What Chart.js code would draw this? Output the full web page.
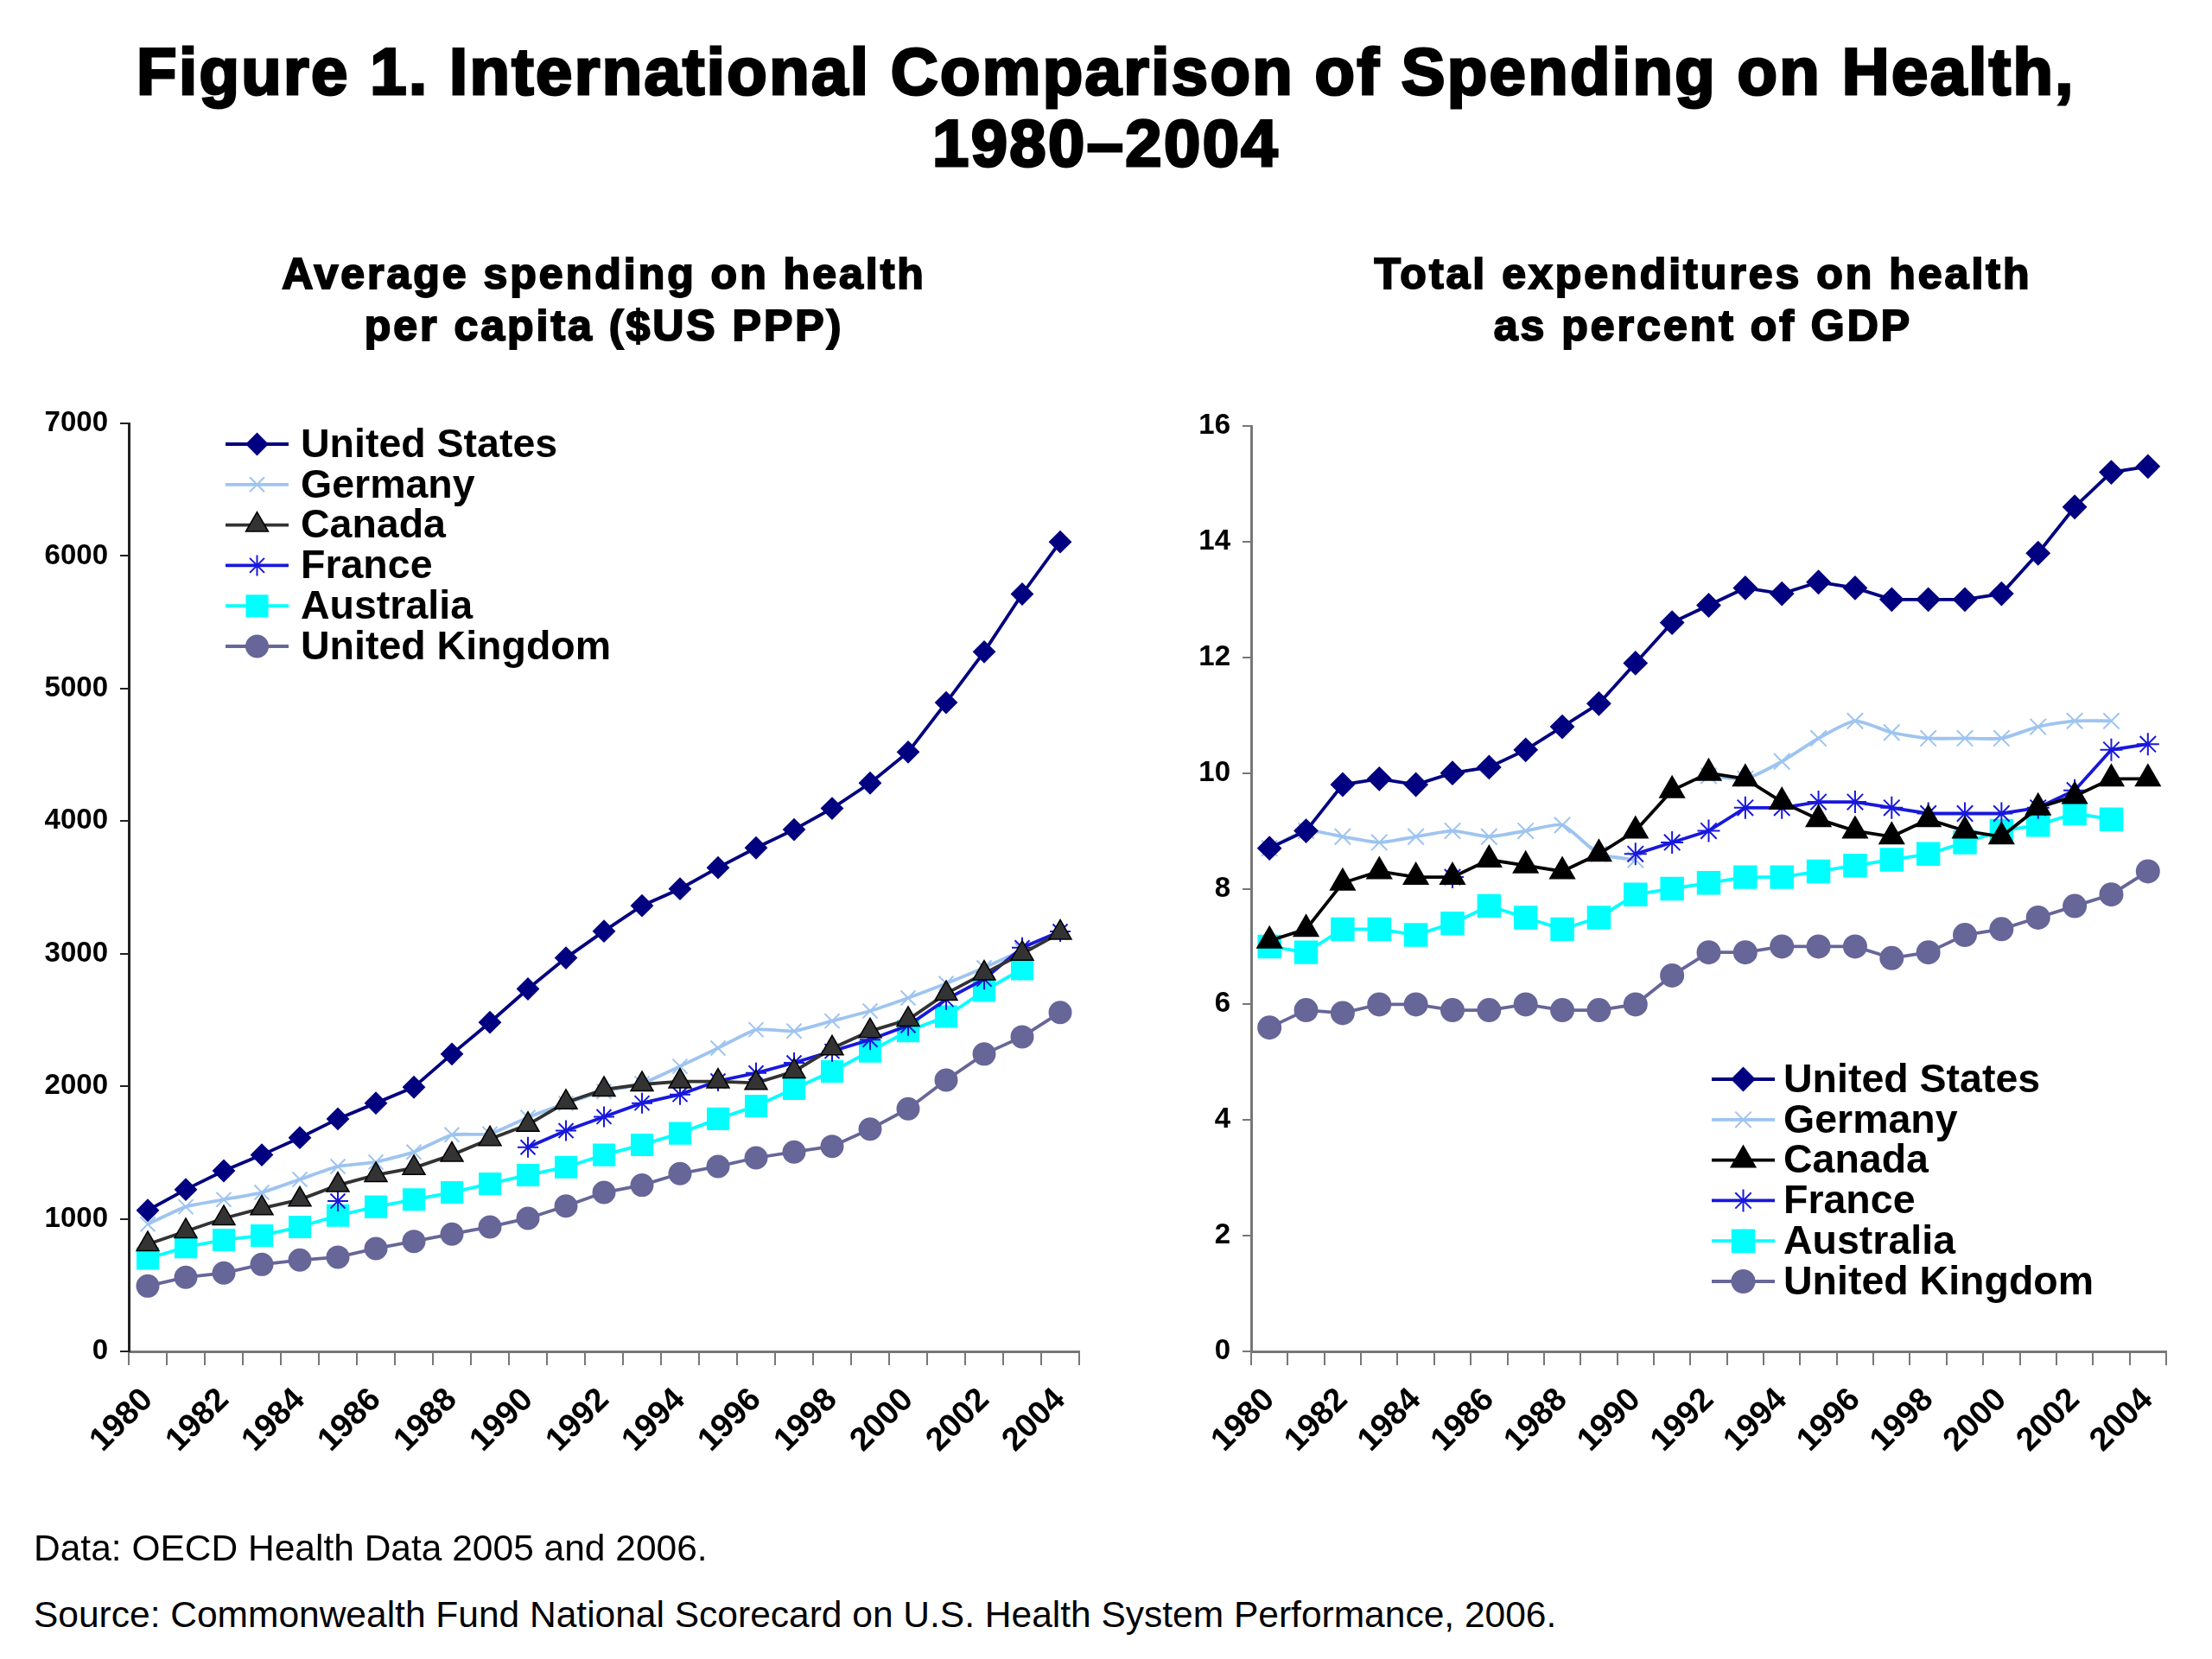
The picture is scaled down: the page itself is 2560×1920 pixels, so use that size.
<!DOCTYPE html>
<html><head><meta charset="utf-8">
<script src="https://cdn.jsdelivr.net/npm/chart.js@4.4.0/dist/chart.umd.min.js"></script>
<style>
html,body{margin:0;padding:0;background:#fff;}
body{width:2560px;height:1920px;position:relative;overflow:hidden;font-family:"Liberation Sans",Arial,sans-serif;color:#000;}
.ttl{position:absolute;left:0;width:2560px;text-align:center;font-weight:bold;font-size:76px;line-height:76px;letter-spacing:2.4px;-webkit-text-stroke:3px #000;white-space:nowrap;}
.sub{position:absolute;text-align:center;font-weight:bold;font-size:50px;line-height:50px;letter-spacing:3px;-webkit-text-stroke:2px #000;white-space:nowrap;width:1000px;}
.note{position:absolute;left:39px;font-size:42.5px;line-height:43px;white-space:nowrap;}
canvas{position:absolute;}
</style></head>
<body>
<div class="ttl" style="top:45px">Figure 1. International Comparison of Spending on Health,</div>
<div class="ttl" style="top:128px">1980–2004</div>
<div class="sub" style="left:199px;top:292px">Average spending on health</div>
<div class="sub" style="left:199px;top:352px">per capita ($US PPP)</div>
<div class="sub" style="left:1471px;top:292px">Total expenditures on health</div>
<div class="sub" style="left:1471px;top:352px">as percent of GDP</div>
<canvas id="c1" width="1300" height="1400" style="left:0;top:400px"></canvas>
<canvas id="c2" width="1260" height="1400" style="left:1300px;top:400px"></canvas>
<div class="note" style="top:1770px">Data: OECD Health Data 2005 and 2006.</div>
<div class="note" style="top:1847px">Source: Commonwealth Fund National Scorecard on U.S. Health System Performance, 2006.</div>
<script>
// ---------- data ----------
const years = ["1980","1981","1982","1983","1984","1985","1986","1987","1988","1989","1990","1991","1992","1993","1994","1995","1996","1997","1998","1999","2000","2001","2002","2003","2004"];
const countries = ["United States","Germany","Canada","France","Australia","United Kingdom"];

// per capita spending ($US PPP)
const pcUS = [1064,1221,1362,1482,1612,1754,1873,1993,2243,2482,2734,2968,3170,3362,3489,3649,3798,3936,4096,4287,4521,4894,5277,5713,6106];
const pcGermany = [960,1091,1145,1199,1297,1395,1428,1504,1634,1640,1765,1870,1960,2020,2150,2288,2427,2416,2492,2568,2666,2775,2894,3025,null];
const pcCanada = [808,906,1004,1080,1145,1254,1330,1384,1482,1602,1710,1878,1975,2014,2036,2036,2025,2112,2286,2416,2503,2699,2851,3000,3158];
const pcFrance = [null,null,null,null,null,1134,null,null,null,null,1540,1665,1770,1873,1938,2040,2100,2177,2264,2351,2459,2655,2808,3046,3168];
const pcAustralia = [700,787,841,874,939,1025,1091,1145,1199,1265,1330,1390,1482,1558,1645,1754,1851,1982,2112,2264,2416,2525,2721,2884,null];
const pcUK = [493,559,591,656,689,711,776,830,885,939,1004,1097,1199,1254,1341,1395,1460,1504,1547,1677,1830,2047,2243,2373,2557];

// total expenditure on health, % of GDP
const gdpUS = [8.7,9.0,9.8,9.9,9.8,10.0,10.1,10.4,10.8,11.2,11.9,12.6,12.9,13.2,13.1,13.3,13.2,13.0,13.0,13.0,13.1,13.8,14.6,15.2,15.3];
const gdpGermany = [8.7,9.0,8.9,8.8,8.9,9.0,8.9,9.0,9.1,8.6,8.5,null,9.95,9.9,10.2,10.6,10.9,10.7,10.6,10.6,10.6,10.8,10.9,10.9,null];
const gdpCanada = [7.1,7.3,8.1,8.3,8.2,8.2,8.5,8.4,8.3,8.6,9.0,9.7,10.0,9.9,9.5,9.2,9.0,8.9,9.2,9.0,8.9,9.4,9.6,9.9,9.9];
const gdpFrance = [null,null,null,null,null,8.2,null,null,null,null,8.6,8.8,9.0,9.4,9.4,9.5,9.5,9.4,9.3,9.3,9.3,9.4,9.7,10.4,10.5];
const gdpAustralia = [7.0,6.9,7.3,7.3,7.2,7.4,7.7,7.5,7.3,7.5,7.9,8.0,8.1,8.2,8.2,8.3,8.4,8.5,8.6,8.8,9.0,9.1,9.3,9.2,null];
const gdpUK = [5.6,5.9,5.85,6.0,6.0,5.9,5.9,6.0,5.9,5.9,6.0,6.5,6.9,6.9,7.0,7.0,7.0,6.8,6.9,7.2,7.3,7.5,7.7,7.9,8.3];

// ---------- styles ----------
const FONT = "'Liberation Sans', Arial, sans-serif";
Chart.defaults.font.family = FONT;
Chart.defaults.font.size = 33;
Chart.defaults.font.weight = 'bold';
Chart.defaults.color = '#000';

function series(label, data, color, style, radius, opts) {
  opts = opts || {};
  return {
    label: label, data: data,
    borderColor: opts.line || color, borderWidth: opts.lw || 3.8,
    pointStyle: style, pointRadius: radius, pointHoverRadius: radius,
    pointBackgroundColor: opts.fill || color, pointBorderColor: opts.pborder || color,
    pointBorderWidth: opts.pbw || 2,
    tension: opts.tension || 0, spanGaps: false, fill: false,
    order: opts.order || 0
  };
}

const insideLegend = {
  id: 'insideLegend',
  afterDatasetsDraw(chart, args, o) {
    const ctx = chart.ctx;
    ctx.save();
    chart.data.datasets.forEach((d, i) => {
      const y = o.y + i * o.rowH;
      ctx.strokeStyle = d.borderColor; ctx.lineWidth = d.borderWidth;
      ctx.beginPath(); ctx.moveTo(o.x, y); ctx.lineTo(o.x + o.len, y); ctx.stroke();
      ctx.fillStyle = d.pointBackgroundColor; ctx.strokeStyle = d.pointBorderColor; ctx.lineWidth = d.pointBorderWidth;
      Chart.helpers.drawPoint(ctx, {pointStyle: d.pointStyle, radius: d.pointRadius, rotation: 0, borderWidth: d.pointBorderWidth}, o.x + o.len / 2, y);
      ctx.fillStyle = '#000'; ctx.font = o.font; ctx.textBaseline = 'middle'; ctx.textAlign = 'left';
      ctx.fillText(d.label, o.textX, y + 2);
    });
    ctx.restore();
  }
};

function makeChart(id, datasets, yMax, yStep, cfg) {
  return new Chart(document.getElementById(id), {
    type: 'line',
    data: { labels: years, datasets: datasets },
    plugins: [insideLegend],
    options: {
      responsive: false, animation: false, devicePixelRatio: 1,
      layout: { padding: { top: cfg.padTop, right: cfg.padRight, left: 0, bottom: 0 } },
      plugins: { legend: { display: false }, tooltip: { enabled: false }, insideLegend: cfg.legend },
      scales: {
        x: {
          type: 'category', offset: true,
          grid: { offset: true, drawOnChartArea: false, drawTicks: true, tickLength: 16, color: cfg.xColor, lineWidth: 2 },
          border: { display: true, color: cfg.xColor, width: 3 },
          ticks: { autoSkip: false, maxRotation: 45, minRotation: 45, padding: 18, color: '#000',
                   font: { family: FONT, size: 38, weight: 'bold' },
                   callback: (v, i) => (i % 2 === 0 ? years[i] : '') },
          afterFit: s => { s.height = cfg.xH; }
        },
        y: {
          min: 0, max: yMax,
          grid: { drawOnChartArea: false, drawTicks: true, tickLength: 10, color: cfg.yColor, lineWidth: 2 },
          border: { display: true, color: cfg.yColor, width: 3 },
          ticks: { stepSize: yStep, padding: 14, color: '#000', font: { family: FONT, size: 33, weight: 'bold' },
                   callback: v => String(v) },
          afterFit: s => { s.width = cfg.yW; }
        }
      }
    }
  });
}

const NAVY = '#000080', LBLUE = '#9EC4F0', BLUE = '#1818DC', CYAN = '#00FFFF', SLATE = '#666699';

makeChart('c1', [
  series(countries[0], pcUS, NAVY, 'rectRot', 12, {order: 0}),
  series(countries[1], pcGermany, LBLUE, 'crossRot', 12, {order: 3, tension: 0.15}),
  series(countries[2], pcCanada, '#333333', 'triangle', 15, {order: 1, pborder: '#000', pbw: 1.5}),
  series(countries[3], pcFrance, BLUE, 'star', 12, {order: 2}),
  series(countries[4], pcAustralia, CYAN, 'rect', 17, {order: 4}),
  series(countries[5], pcUK, SLATE, 'circle', 12.5, {order: 5})
], 7000, 1000, {
  padTop: 90, padRight: 51, xH: 236, yW: 149, xColor: '#777', yColor: '#222',
  legend: { x: 261, len: 73, textX: 348, y: 114, rowH: 46.8, font: "bold 46.5px 'Liberation Sans', Arial, sans-serif" }
});

makeChart('c2', [
  series(countries[0], gdpUS, NAVY, 'rectRot', 13, {order: 0}),
  series(countries[1], gdpGermany, LBLUE, 'crossRot', 13, {order: 3, tension: 0.2}),
  series(countries[2], gdpCanada, '#000000', 'triangle', 16, {order: 1}),
  series(countries[3], gdpFrance, BLUE, 'star', 13, {order: 2}),
  series(countries[4], gdpAustralia, CYAN, 'rect', 18, {order: 4}),
  series(countries[5], gdpUK, SLATE, 'circle', 13, {order: 5})
], 16, 2, {
  padTop: 93, padRight: 53, xH: 236, yW: 148, xColor: '#777', yColor: '#777',
  legend: { x: 681, len: 73, textX: 764, y: 849, rowH: 46.8, font: "bold 46.5px 'Liberation Sans', Arial, sans-serif" }
});
</script>
</body></html>
